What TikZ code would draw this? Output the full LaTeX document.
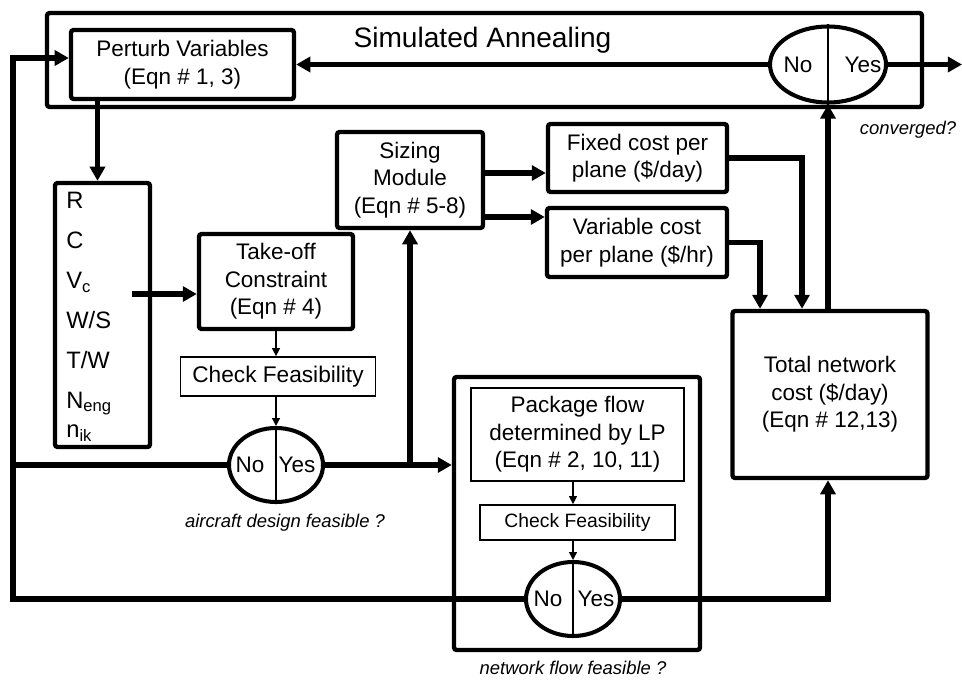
\documentclass[tikz,border=0pt]{standalone}
\usepackage{fontspec}
\setmainfont{Liberation Sans}
\usepackage{tikz}
\usetikzlibrary{calc, shapes.geometric, arrows.meta}

\tikzset{
	box size/.style 2 args = {minimum width = {#1*\unitpx}, minimum height = {#2*\unitpx}},
	block/.style = {draw, line width = 2.5pt, rounded corners = 1.5pt, align = center, inner sep = 0pt, font = \fontsize{12.8}{15.6}\selectfont},
	thin block/.style = {draw, line width = 1pt, align = center, inner sep = 0pt, font = \fontsize{12.8}{15.6}\selectfont},
	decision/.style = {ellipse, draw, line width = 2.3pt, inner sep = 0pt},
	answer/.style = {inner sep = 0pt, font = \fontsize{12.8}{15}\selectfont},
	note/.style = {inner sep = 0pt, font = \fontsize{10.5}{12}\selectfont\itshape},
	flow/.style = {line width = 3.4pt, -{Triangle[length = 8pt, width = 8.5pt]}},
	thick link/.style = {line width = 3.4pt},
	thin flow/.style = {line width = 0.7pt, -{Triangle[length = 4.5pt, width = 4.5pt]}},
	divider/.style = {line width = 0.7pt}
}

\begin{document}
\begin{tikzpicture}[x = 0.02cm, y = -0.02cm]
		\def\unitpx{0.02cm}
		\def\leftx{13}
		
		\useasboundingbox (0,0) rectangle (962,679);
		
		\node (sa frame) [block, box size = {875}{94}] at (484.5,60) {};
		\node (sa title) [inner sep = 0pt, font = \fontsize{16}{19}\selectfont] at (482.5,40) {Simulated Annealing};
		\node (perturb) [block, box size = {223}{69}] at (182.5,64.5) {Perturb Variables\\(Eqn \# 1, 3)};
		\node (conv) [decision, box size = {116}{76}] at (828,64.5) {};
		\node (conv no) [answer] at ($ (conv.center) + (-30,0) $) {No};
		\node (conv yes) [answer] at ($ (conv.center) + (35,0) $) {Yes};
		\node (conv note) [note] at (908,130) {converged?};
		
		\node (vars) [block, box size = {95}{264}] at (102.5,315) {};
		\node (var list) [anchor = north west, align = left, inner sep = 0pt, font = \fontsize{13.5}{22.7}\selectfont] at (66,192) {R\\C\\V\textsubscript{c}\\W/S\\T/W\\N\textsubscript{eng}\\[-6pt]n\textsubscript{ik}};
		
		\node (takeoff) [block, box size = {154}{95}] at (276,281.5) {Take-off\\Constraint\\(Eqn \# 4)};
		\node (check1) [thin block, box size = {195}{39}, font = \fontsize{12.9}{15}\selectfont] at (278,376.5) {Check Feasibility};
		\node (dec1) [decision, box size = {94}{74}] at (276,465) {};
		\node (dec1 no) [answer] at ($ (dec1.center) + (-26,0) $) {No};
		\node (dec1 yes) [answer] at ($ (dec1.center) + (21,0) $) {Yes};
		\node (design note) [note] at (285,523) {aircraft design feasible ?};
		
		\node (sizing) [block, box size = {146}{96}] at (410,180) {Sizing\\Module\\(Eqn \# 5-8)};
		\node (fixed) [block, box size = {179}{68}] at (637.5,158) {Fixed cost per\\plane (\$/day)};
		\node (variable) [block, box size = {180}{69}] at (637,242.5) {Variable cost\\per plane (\$/hr)};
		\node (total) [block, box size = {195}{167}] at (830,394.5) {Total network\\cost (\$/day)\\(Eqn \# 12,13)};
		
		\node (pkg frame) [block, box size = {246}{273}] at (577,513.5) {};
		\node (pkg) [thin block, box size = {213}{93}] at (577.5,434.5) {Package flow\\determined by LP\\(Eqn \# 2, 10, 11)};
		\node (check2) [thin block, box size = {195}{35}, font = \fontsize{11}{13}\selectfont] at (577.5,522.5) {Check Feasibility};
		\node (dec2) [decision, box size = {94}{74}] at (573,599) {};
		\node (dec2 no) [answer] at ($ (dec2.center) + (-25,0) $) {No};
		\node (dec2 yes) [answer] at ($ (dec2.center) + (23,0) $) {Yes};
		\node (flow note) [note] at (573,668) {network flow feasible ?};
		
		\coordinate (exit) at (962,64.5);
		\coordinate (loop top) at (\leftx,58);
		\coordinate (vars in) at ($ (vars.north) + (-5,0) $);
		\coordinate (vc out) at (132,294);
		\coordinate (size top) at ($ (sizing.east) + (0,-7) $);
		\coordinate (size low) at ($ (sizing.east) + (0,37) $);
		
		\draw [flow] (conv.west) -- (perturb.east);
		\draw [flow] (conv.east) -- (exit);
		\draw [flow] (conv.south |- total.north) -- (conv.south);
		\draw [divider] (conv.north) -- (conv.south);
		
		\draw [flow] (vars in |- perturb.south) -- (vars in);
		\draw [flow] (vc out) -- (vc out -| takeoff.west);
		\draw [thin flow] (takeoff.south) -- (takeoff.south |- check1.north);
		\draw [thin flow] (check1.south -| dec1.north) -- (dec1.north);
		\draw [divider] (dec1.north) -- (dec1.south);
		
		\draw [thick link] (dec1.west) -- (dec1.west -| loop top);
		\draw [flow] (dec2.west) -| (loop top) -- (loop top -| perturb.west);
		\draw [flow] (dec1.east) -- (dec1.east -| pkg frame.west);
		\draw [flow] (dec1.east -| sizing.south) -- (sizing.south);
		
		\draw [flow] (size top) -- (size top -| fixed.west);
		\draw [flow] (size low) -- (size low -| variable.west);
		\draw [flow] (fixed.east) -| ($ (total.north) + (-28,0) $);
		\draw [flow] (variable.east) -| ($ (total.north) + (-70,0) $);
		
		\draw [thin flow] (dec2.north |- pkg.south) -- (dec2.north |- check2.north);
		\draw [thin flow] (dec2.north |- check2.south) -- (dec2.north);
		\draw [divider] (dec2.north) -- (dec2.south);
		\draw [flow] (dec2.east) -| ($ (total.south) + (-2,0) $);
	\end{tikzpicture}
\end{document}
